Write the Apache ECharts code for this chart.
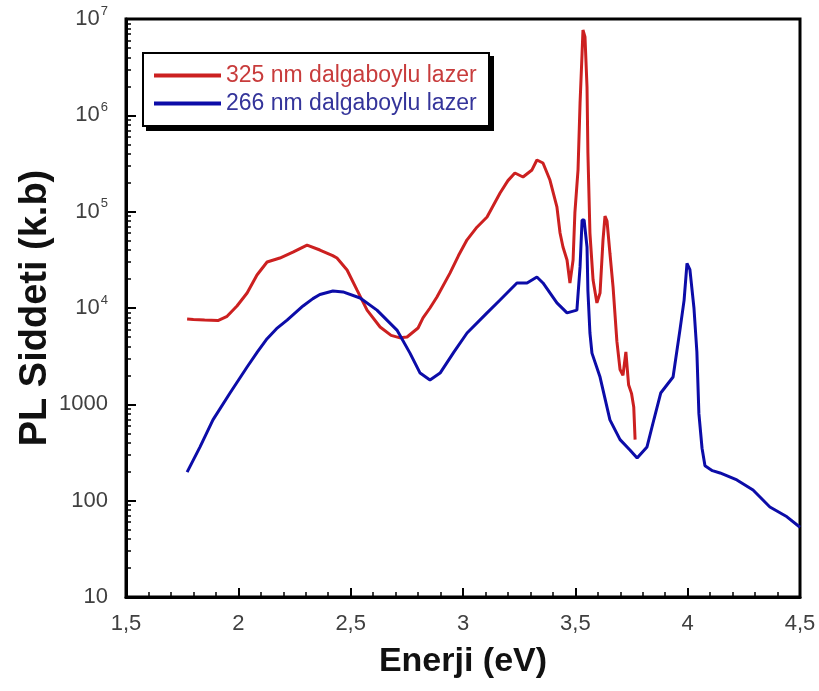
<!DOCTYPE html>
<html>
<head>
<meta charset="utf-8">
<title>PL</title>
<script src="https://cdn.jsdelivr.net/npm/echarts@6/dist/echarts.min.js"></script>
<style>
	html, body {margin: 0; padding: 0; background: #fff;}
	#chart {width: 819px; height: 691px;}
</style>
</head>
<body>
<div id="chart"></div>
<script>
// Enerji (eV) / PL siddeti, okunan degerler
var redName = '325 nm dalgaboylu lazer';
var blueName = '266 nm dalgaboylu lazer';

var redEnergy = [1.772, 1.800, 1.850, 1.909, 1.950, 1.994, 2.039, 2.083, 2.128, 2.185, 2.243, 2.306, 2.363, 2.420, 2.439, 2.484,
	2.528, 2.573, 2.631, 2.680, 2.720, 2.751, 2.800, 2.822, 2.853, 2.884, 2.942, 2.980, 3.018, 3.062, 3.107, 3.165, 3.200,
	3.231, 3.267, 3.307, 3.329, 3.356, 3.387, 3.418, 3.432, 3.445, 3.463, 3.476, 3.490, 3.498, 3.512, 3.521, 3.530, 3.534,
	3.543, 3.552, 3.556, 3.565, 3.579, 3.596, 3.610, 3.623, 3.632, 3.641, 3.654, 3.668, 3.685, 3.699, 3.712, 3.725, 3.730,
	3.737, 3.750, 3.760, 3.766];
var redIntensity = [7700, 7600, 7500, 7400, 8200, 10500, 14300, 22000, 30000, 33000, 38000, 45000, 40000, 35000, 33000, 24800,
	15400, 9500, 6350, 5200, 4900, 5000, 6200, 7900, 10000, 13000, 23000, 35000, 51000, 69000, 88000, 156000, 210000,
	252000, 229000, 271000, 344000, 320000, 213000, 112000, 60000, 43000, 31500, 18200, 31500, 97000, 271000, 1340000, 4400000, 7690000,
	6500000, 1970000, 406000, 60000, 19500, 11300, 14300, 50000, 90000, 80000, 37000, 16500, 4500, 2300, 2000, 3500, 3660,
	1600, 1300, 940, 430];

var blueEnergy = [1.772, 1.829, 1.887, 1.963, 2.039, 2.085, 2.128, 2.170, 2.217, 2.288, 2.332, 2.363, 2.421, 2.466, 2.542, 2.617, 2.706, 2.764, 2.809,
	2.853, 2.898, 2.960, 3.018, 3.107, 3.165, 3.240, 3.285, 3.329, 3.356, 3.418, 3.463, 3.507, 3.521, 3.530, 3.539, 3.552,
	3.556, 3.565, 3.574, 3.610, 3.654, 3.699, 3.743, 3.775, 3.819, 3.850, 3.880, 3.935, 3.966, 3.984, 3.997, 4.010, 4.028,
	4.041, 4.050, 4.064, 4.077, 4.110, 4.144, 4.219, 4.291, 4.366, 4.442, 4.500];
var blueIntensity = [198, 360, 690, 1310, 2440, 3500, 4800, 6100, 7500, 10500, 12500, 13800, 15000, 14700, 12700, 9500, 5900, 3400, 2110,
	1790, 2110, 3500, 5500, 8900, 12100, 18200, 18200, 21000, 18200, 11300, 8900, 9500, 26700, 82000, 82000, 43000,
	15000, 5500, 3400, 1920, 690, 430, 336, 277, 361, 700, 1310, 1920, 6000, 12000, 29000, 25000, 10000,
	3500, 800, 350, 230, 205, 194, 164, 129, 86, 68, 53];

var xTicks = [1.5, 2, 2.5, 3, 3.5, 4, 4.5];
var yTicks = [10, 100, 1000, 1e4, 1e5, 1e6, 1e7];

!function(){
	var dom = document.getElementById("chart");
	var myChart = echarts.init(dom);
	var font = "'Liberation Sans', Arial, sans-serif";

	function pairs(xs, ys) {
		var out = [];
		for (var i = 0; i < xs.length; i++) {
			out.push([xs[i], ys[i]]);
		}
		return out;
	}

	function yLabel(val) {
		var e = Math.round(Math.log(val) / Math.LN10);
		if (e <= 3) return String(Math.round(val));
		return '{b|10}{s|' + e + '}';
	}

	var option = {
		animation: false,
		backgroundColor: '#fff',
		textStyle: {fontFamily: font},
		grid: {
			left: 126,
			top: 19,
			right: 19,
			bottom: 94,
			show: true,
			borderColor: '#000',
			borderWidth: 3
		},
		// lejant kutusu ve golgesi
		graphic: [
			{type: 'rect', z: 10, left: 146, top: 56, shape: {width: 348, height: 75}, style: {fill: '#000'}},
			{type: 'rect', z: 11, left: 142, top: 52, shape: {width: 346, height: 73}, style: {fill: '#fff', stroke: '#000', lineWidth: 2}}
		],
		legend: {
			orient: 'vertical',
			left: 142,
			top: 52,
			z: 20,
			padding: [12, 10, 15, 12],
			icon: 'rect',
			itemWidth: 67,
			itemHeight: 4,
			itemGap: 5,
			selectedMode: false,
			textStyle: {fontSize: 23, fontFamily: font, lineHeight: 22, padding: [0, 0, 0, 0]},
			data: [
				{name: redName, textStyle: {color: '#c83c3c'}},
				{name: blueName, textStyle: {color: '#34349a'}}
			]
		},
		xAxis: {
			type: 'value',
			min: xTicks[0],
			max: xTicks[xTicks.length - 1],
			interval: 0.5,
			name: 'Enerji (eV)',
			nameLocation: 'middle',
			nameGap: 48,
			nameTextStyle: {fontSize: 34, fontWeight: 'bold', color: '#111', fontFamily: font},
			axisLine: {lineStyle: {color: '#000', width: 3}},
			axisTick: {inside: true, length: 9, lineStyle: {color: '#000', width: 2}},
			minorTick: {show: true, splitNumber: 5, length: 5, lineStyle: {color: '#000', width: 1.5}},
			splitLine: {show: false},
			axisLabel: {
				fontSize: 22,
				color: '#404040',
				margin: 16,
				formatter: function (v) { return String(v).replace('.', ','); }
			}
		},
		yAxis: {
			type: 'log',
			logBase: 10,
			min: yTicks[0],
			max: yTicks[yTicks.length - 1],
			name: 'PL Siddeti (k.b)',
			nameLocation: 'middle',
			nameGap: 71,
			nameMoveOverlap: false,
			nameTextStyle: {fontSize: 38, fontWeight: 'bold', color: '#111', fontFamily: font},
			axisLine: {lineStyle: {color: '#000', width: 3}},
			axisTick: {inside: true, length: 10, lineStyle: {color: '#000', width: 2}},
			minorTick: {show: true, splitNumber: 9, length: 5, lineStyle: {color: '#000', width: 1.5}},
			splitLine: {show: false},
			axisLabel: {
				fontSize: 22,
				color: '#404040',
				margin: 18,
				formatter: yLabel,
				rich: {
					b: {fontSize: 22, color: '#404040', fontFamily: font},
					s: {fontSize: 13, color: '#404040', fontFamily: font, padding: [0, 0, 16, 1]}
				}
			}
		},
		series: [
			{
				name: redName,
				type: 'line',
				data: pairs(redEnergy, redIntensity),
				symbol: 'none',
				showSymbol: false,
				color: '#cc2020',
				lineStyle: {width: 3, color: '#cc2020'}
			},
			{
				name: blueName,
				type: 'line',
				data: pairs(blueEnergy, blueIntensity),
				symbol: 'none',
				showSymbol: false,
				color: '#0c0ca8',
				lineStyle: {width: 3, color: '#0c0ca8'}
			}
		]
	};

	myChart.setOption(option, true);
}();
</script>
</body>
</html>
